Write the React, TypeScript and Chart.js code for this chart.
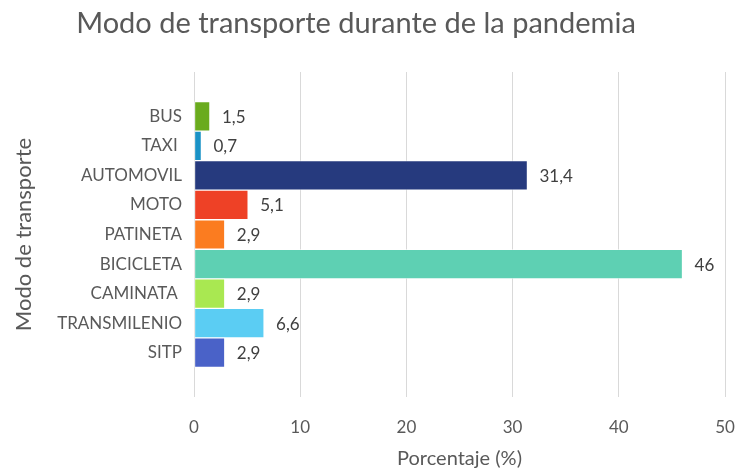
import React, { useEffect, useRef } from "react";
import { Chart, registerables } from "chart.js";

Chart.register(...registerables);

const categories = ["", "BUS", "TAXI ", "AUTOMOVIL", "MOTO", "PATINETA", "BICICLETA", "CAMINATA ", "TRANSMILENIO", "SITP", ""];
const values: (number | null)[] = [null, 1.5, 0.7, 31.4, 5.1, 2.9, 46, 2.9, 6.6, 2.9, null];
const barColors = ["#ffffff", "#6AAB1E", "#1A92C6", "#263A7E", "#EE4126", "#FB7C20", "#5ED0B3", "#A9E851", "#5BCDF3", "#4A62C8", "#ffffff"];
const xTicks = [0, 10, 20, 30, 40, 50];

const TITLE = "Modo de transporte durante de la pandemia";
const X_TITLE = "Porcentaje (%)";
const Y_TITLE = "Modo de transporte";
const FONT = "Lato, 'Open Sans', sans-serif";
const TEXT = "#595959";

const labelPlugin = {
  id: "valueLabels",
  afterDatasetsDraw(chart: any) {
    const ctx = chart.ctx;
    const meta = chart.getDatasetMeta(0);
    ctx.save();
    ctx.font = `17px ${FONT}`;
    ctx.fillStyle = "#404040";
    ctx.textAlign = "left";
    ctx.textBaseline = "middle";
    meta.data.forEach((el: any, i: number) => {
      const v = values[i];
      if (v === null || v === undefined) return;
      ctx.fillText(String(v).replace(".", ","), el.x + 12, el.y + 1);
    });
    ctx.restore();
  },
};

const titlePlugin = {
  id: "customTitle",
  afterDraw(chart: any) {
    const ctx = chart.ctx;
    ctx.save();
    ctx.font = `29px ${FONT}`;
    ctx.fillStyle = TEXT;
    ctx.textAlign = "center";
    ctx.textBaseline = "alphabetic";
    ctx.fillText(TITLE, 356, 33);
    ctx.restore();
  },
};

export default function App() {
  const ref = useRef<HTMLCanvasElement | null>(null);
  useEffect(() => {
    document.body.style.margin = "0";
    if (!ref.current) return;
    const chart = new Chart(ref.current, {
      type: "bar",
      data: {
        labels: categories,
        datasets: [
          {
            data: values as any,
            backgroundColor: barColors,
            borderColor: "rgba(255,255,255,0.55)",
            borderWidth: 1,
            borderSkipped: false,
            barPercentage: 1,
            categoryPercentage: 1,
          },
        ],
      },
      options: {
        indexAxis: "y",
        animation: false,
        responsive: true,
        maintainAspectRatio: false,
        layout: { padding: { top: 72, right: 12, left: 0, bottom: 0 } },
        plugins: { legend: { display: false }, tooltip: { enabled: false }, title: { display: false } },
        scales: {
          x: {
            type: "linear",
            min: 0,
            max: 50,
            afterFit(scale: any) {
              scale.height = 77;
              scale.paddingLeft = 0;
              scale.paddingRight = 0;
            },
            afterBuildTicks(scale: any) {
              scale.ticks = xTicks.map((v) => ({ value: v }));
            },
            grid: { color: "#d9d9d9", drawTicks: false, lineWidth: 1 },
            border: { display: false },
            ticks: { color: TEXT, font: { family: FONT, size: 17 }, padding: 20 },
            title: {
              display: true,
              text: X_TITLE,
              color: TEXT,
              font: { family: FONT, size: 20 },
              padding: { top: 0, bottom: 3 },
            },
          },
          y: {
            type: "category",
            afterFit(scale: any) {
              scale.width = 194;
              scale.paddingTop = 0;
              scale.paddingBottom = 0;
            },
            grid: { display: false, drawTicks: false },
            border: { display: false },
            ticks: { color: TEXT, font: { family: FONT, size: 17 }, padding: 12, autoSkip: false },
            title: {
              display: true,
              text: Y_TITLE,
              color: TEXT,
              font: { family: FONT, size: 22 },
              padding: { top: 11, bottom: 0 },
            },
          },
        },
      },
      plugins: [labelPlugin, titlePlugin],
    });
    return () => chart.destroy();
  }, []);
  return (
    <div style={{ width: 737, height: 474, position: "relative", background: "#fff" }}>
      <canvas ref={ref} />
    </div>
  );
}
